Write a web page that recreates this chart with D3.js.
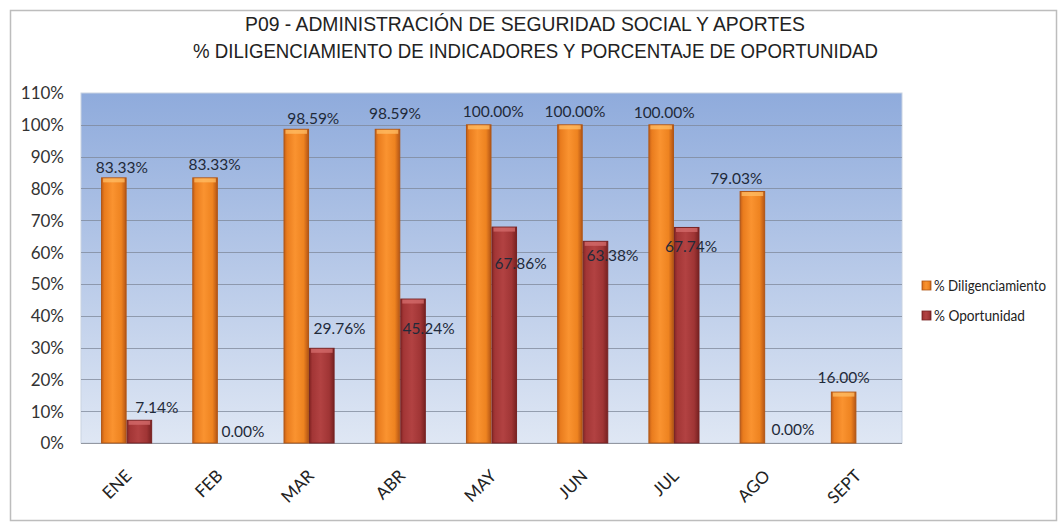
<!DOCTYPE html>
<html>
<head>
<meta charset="utf-8">
<script src="https://cdn.jsdelivr.net/npm/d3@7"></script>
<style>
  html, body { margin: 0; padding: 0; background: #ffffff; }
  svg { display: block; }
</style>
</head>
<body>
<svg id="chart" width="1061" height="523"></svg>
<script>
// ---- data ----
const months = ["ENE", "FEB", "MAR", "ABR", "MAY", "JUN", "JUL", "AGO", "SEPT"];
const diligenciamiento = [83.33, 83.33, 98.59, 98.59, 100.00, 100.00, 100.00, 79.03, 16.00];
const oportunidad = [7.14, 0.00, 29.76, 45.24, 67.86, 63.38, 67.74, 0.00, null];
const seriesNames = ["% Diligenciamiento", "% Oportunidad"];
const yTicks = [0, 10, 20, 30, 40, 50, 60, 70, 80, 90, 100, 110];
const titleLines = [
  "P09 - ADMINISTRACIÓN DE SEGURIDAD SOCIAL Y APORTES",
  "% DILIGENCIAMIENTO DE INDICADORES Y PORCENTAJE DE OPORTUNIDAD"
];

// ---- label nudges (px) so data labels sit where they were placed by hand ----
const dilLabelShift = [[8, 2], [9.5, -1], [17, 1.5], [7.5, -3.5], [14.5, -1], [5, -1], [3, 0], [-16, -0.7], [0, -3]];
const opLabelShift = [[17.4, -1], [12.4, 1], [17.7, -7.4], [15.5, 42], [16.3, 48], [17, 26.6], [4.4, 31.4], [15, -1], null];

const svg = d3.select("#chart");
const plot = { left: 81, right: 902, top: 93, bottom: 443 };
const FONT = "Lato, 'Open Sans', 'Liberation Sans', sans-serif";

// ---- gradients ----
const defs = svg.append("defs");
const bg = defs.append("linearGradient").attr("id", "plotBg")
  .attr("x1", 0).attr("y1", 0).attr("x2", 0).attr("y2", 1);
bg.append("stop").attr("offset", "0%").attr("stop-color", "#8fabdc");
bg.append("stop").attr("offset", "100%").attr("stop-color", "#dfe7f4");

function barGradient(id, stops) {
  const g = defs.append("linearGradient").attr("id", id)
    .attr("x1", 0).attr("y1", 0).attr("x2", 1).attr("y2", 0);
  stops.forEach(([o, c]) => g.append("stop").attr("offset", o).attr("stop-color", c));
}
barGradient("gradOrange", [["0%", "#c25e18"], ["12%", "#e97c1e"], ["45%", "#fa9330"], ["80%", "#ee8320"], ["100%", "#b45515"]]);
barGradient("gradRed", [["0%", "#862626"], ["12%", "#a33636"], ["45%", "#b24242"], ["80%", "#a03535"], ["100%", "#772121"]]);
const fills = ["url(#gradOrange)", "url(#gradRed)"];
const strokes = ["#b05615", "#772222"];
const caps = ["#ffbd66", "#d66e6e"];

// ---- outer frame ----
svg.append("rect").attr("x", 10.5).attr("y", 10.5).attr("width", 1046).attr("height", 510)
  .attr("fill", "#ffffff").attr("stroke", "#bdbdbd").attr("stroke-width", 1.5);

// ---- title (condensed caps) ----
const titleX = [525, 535.5];
const titleW = [560, 685];
svg.selectAll("text.title").data(titleLines).join("text")
  .attr("class", "title")
  .attr("x", (d, i) => titleX[i])
  .attr("y", (d, i) => 31 + i * 27)
  .attr("text-anchor", "middle")
  .attr("textLength", (d, i) => titleW[i])
  .attr("lengthAdjust", "spacingAndGlyphs")
  .attr("font-family", "'Liberation Sans Narrow', 'Liberation Sans', Arial, sans-serif")
  .attr("font-size", 21)
  .attr("fill", "#222")
  .text(d => d);

// ---- scales ----
const x0 = d3.scaleBand().domain(months).range([plot.left, plot.right])
  .paddingInner(0.44).paddingOuter(0.22);
const x1 = d3.scaleBand().domain([0, 1]).range([0, x0.bandwidth()]).padding(0);
const y = d3.scaleLinear().domain([0, 110]).range([plot.bottom, plot.top]);

// ---- plot background & grid ----
svg.append("rect").attr("x", plot.left).attr("y", plot.top)
  .attr("width", plot.right - plot.left).attr("height", plot.bottom - plot.top)
  .attr("fill", "url(#plotBg)").attr("stroke", "#c9d3e2").attr("stroke-width", 1);

svg.append("g").selectAll("line").data(yTicks.filter(t => t < 110)).join("line")
  .attr("x1", plot.left).attr("x2", plot.right)
  .attr("y1", d => Math.round(y(d)) + 0.5).attr("y2", d => Math.round(y(d)) + 0.5)
  .attr("stroke", d => d === 0 ? "#8a8f99" : "#7d8798").attr("stroke-width", 1)
  .attr("stroke-opacity", d => d === 0 ? 0.9 : 0.75);

// ---- y axis ----
const yAxis = d3.axisLeft(y).tickValues(yTicks).tickFormat(d => d + "%").tickSize(0).tickPadding(0);
const yg = svg.append("g").attr("transform", `translate(${64},0)`).call(yAxis);
yg.select(".domain").remove();
yg.selectAll("text").attr("font-family", FONT).attr("font-size", 17).attr("fill", "#333")
  .attr("dy", "0.35em");

// ---- x axis ----
const xAxis = d3.axisBottom(x0).tickSize(0).tickPadding(0);
const xg = svg.append("g").attr("transform", `translate(0,${plot.bottom})`).call(xAxis);
xg.select(".domain").remove();
xg.selectAll("text")
  .attr("font-family", FONT).attr("font-size", 17).attr("fill", "#222")
  .attr("text-anchor", "end")
  .attr("dy", 0)
  .attr("transform", "translate(6,34) rotate(-45)");

// ---- bars ----
const rows = months.map((m, i) => ({ m, vals: [diligenciamiento[i], oportunidad[i]] }));
const groups = svg.append("g").selectAll("g").data(rows).join("g")
  .attr("transform", d => `translate(${x0(d.m)},0)`);

groups.each(function (row) {
  const g = d3.select(this);
  row.vals.forEach((v, s) => {
    if (v === null || v <= 0) return;
    const bx = x1(s), bw = x1.bandwidth();
    const top = y(v), h = y(0) - y(v);
    g.append("rect").attr("x", bx + 0.5).attr("y", top).attr("width", bw - 1).attr("height", h)
      .attr("fill", fills[s]).attr("stroke", strokes[s]).attr("stroke-width", 1);
    // bevelled cap
    g.append("rect").attr("x", bx + 2).attr("y", top + 0.5).attr("width", bw - 4).attr("height", Math.min(4, h - 1))
      .attr("fill", caps[s]).attr("opacity", 0.75);
  });
});

// ---- data labels ----
const fmt = d3.format(".2f");
const labelData = [];
months.forEach((m, i) => {
  [[diligenciamiento, dilLabelShift], [oportunidad, opLabelShift]].forEach(([vals, shift], s) => {
    const v = vals[i];
    if (v === null || !shift[i]) return;
    labelData.push({
      x: x0(m) + x1(s) + x1.bandwidth() / 2 + shift[i][0],
      y: y(v) - 12 + shift[i][1],
      t: fmt(v) + "%"
    });
  });
});
svg.append("g").selectAll("text").data(labelData).join("text")
  .attr("x", d => d.x).attr("y", d => d.y).attr("dy", "0.35em")
  .attr("text-anchor", "middle")
  .attr("font-family", FONT).attr("font-size", 15.5).attr("fill", "#1f2a3a")
  .text(d => d.t);

// ---- legend ----
const legendW = [112, 91];
const legend = svg.append("g").attr("transform", "translate(922,281)");
const items = legend.selectAll("g").data(seriesNames).join("g")
  .attr("transform", (d, i) => `translate(0,${i * 30})`);
items.append("rect").attr("width", 9).attr("height", 9)
  .attr("fill", (d, i) => fills[i]).attr("stroke", (d, i) => strokes[i]).attr("stroke-width", 0.8);
items.append("text").attr("x", 12).attr("y", 4.5).attr("dy", "0.35em")
  .attr("textLength", (d, i) => legendW[i]).attr("lengthAdjust", "spacingAndGlyphs")
  .attr("font-family", FONT).attr("font-size", 14.5).attr("fill", "#222")
  .text(d => d);
</script>
</body>
</html>
